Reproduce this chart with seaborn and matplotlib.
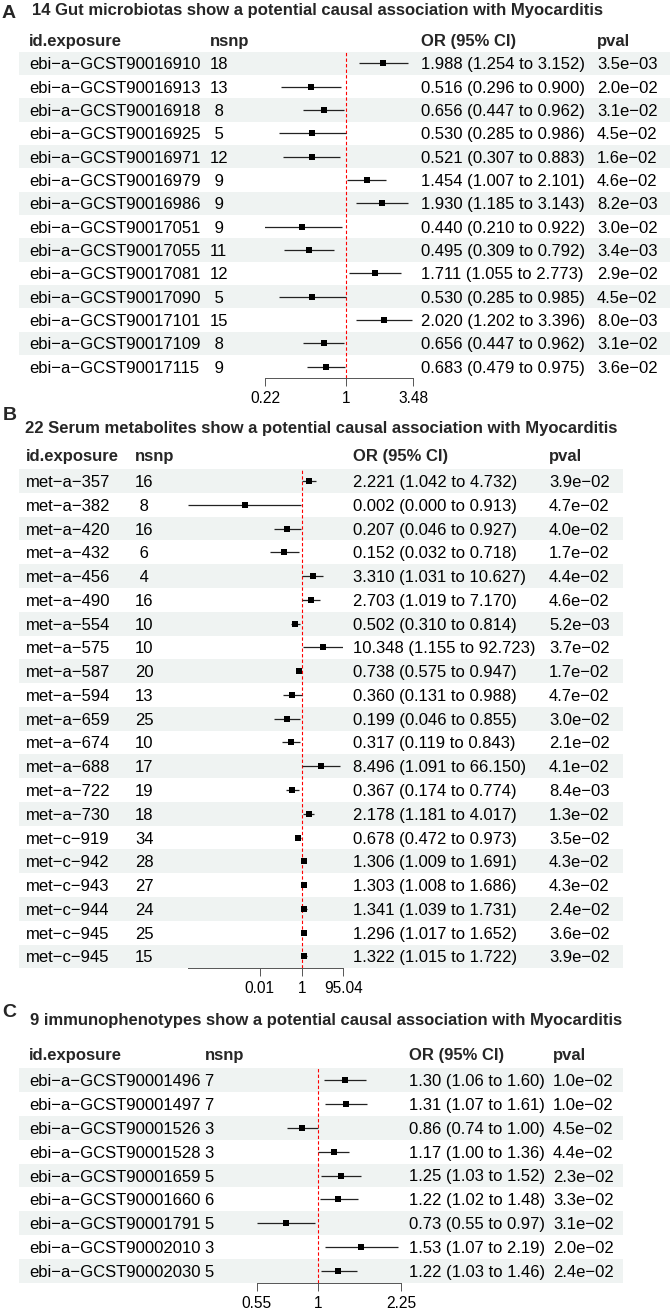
"""Forest plots of MR results - gut microbiota, serum metabolites, immunophenotypes."""

import pandas as pd
import seaborn as sns
import matplotlib.pyplot as plt

#########################################################################################
## Data

ids_a = ["ebi-a-GCST90016910", "ebi-a-GCST90016913", "ebi-a-GCST90016918", "ebi-a-GCST90016925",
         "ebi-a-GCST90016971", "ebi-a-GCST90016979", "ebi-a-GCST90016986", "ebi-a-GCST90017051",
         "ebi-a-GCST90017055", "ebi-a-GCST90017081", "ebi-a-GCST90017090", "ebi-a-GCST90017101",
         "ebi-a-GCST90017109", "ebi-a-GCST90017115"]
nsnp_a = [18, 13, 8, 5, 12, 9, 9, 9, 11, 12, 5, 15, 8, 9]
or_a = [1.988, 0.516, 0.656, 0.530, 0.521, 1.454, 1.930, 0.440, 0.495, 1.711, 0.530, 2.020, 0.656, 0.683]
lo_a = [1.254, 0.296, 0.447, 0.285, 0.307, 1.007, 1.185, 0.210, 0.309, 1.055, 0.285, 1.202, 0.447, 0.479]
hi_a = [3.152, 0.900, 0.962, 0.986, 0.883, 2.101, 3.143, 0.922, 0.792, 2.773, 0.985, 3.396, 0.962, 0.975]
p_a = [3.5e-03, 2.0e-02, 3.1e-02, 4.5e-02, 1.6e-02, 4.6e-02, 8.2e-03, 3.0e-02, 3.4e-03, 2.9e-02,
       4.5e-02, 8.0e-03, 3.1e-02, 3.6e-02]

ids_b = ["met-a-357", "met-a-382", "met-a-420", "met-a-432", "met-a-456", "met-a-490", "met-a-554",
         "met-a-575", "met-a-587", "met-a-594", "met-a-659", "met-a-674", "met-a-688", "met-a-722",
         "met-a-730", "met-c-919", "met-c-942", "met-c-943", "met-c-944", "met-c-945", "met-c-945"]
nsnp_b = [16, 8, 16, 6, 4, 16, 10, 10, 20, 13, 25, 10, 17, 19, 18, 34, 28, 27, 24, 25, 15]
or_b = [2.221, 0.002, 0.207, 0.152, 3.310, 2.703, 0.502, 10.348, 0.738, 0.360, 0.199, 0.317, 8.496,
        0.367, 2.178, 0.678, 1.306, 1.303, 1.341, 1.296, 1.322]
lo_b = [1.042, 0.0000039, 0.046, 0.032, 1.031, 1.019, 0.310, 1.155, 0.575, 0.131, 0.046, 0.119, 1.091,
        0.174, 1.181, 0.472, 1.009, 1.008, 1.039, 1.017, 1.015]
hi_b = [4.732, 0.913, 0.927, 0.718, 10.627, 7.170, 0.814, 92.723, 0.947, 0.988, 0.855, 0.843, 66.150,
        0.774, 4.017, 0.973, 1.691, 1.686, 1.731, 1.652, 1.722]
p_b = [3.9e-02, 4.7e-02, 4.0e-02, 1.7e-02, 4.4e-02, 4.6e-02, 5.2e-03, 3.7e-02, 1.7e-02, 4.7e-02,
       3.0e-02, 2.1e-02, 4.1e-02, 8.4e-03, 1.3e-02, 3.5e-02, 4.3e-02, 4.3e-02, 2.4e-02, 3.6e-02, 3.9e-02]

ids_c = ["ebi-a-GCST90001496", "ebi-a-GCST90001497", "ebi-a-GCST90001526", "ebi-a-GCST90001528",
         "ebi-a-GCST90001659", "ebi-a-GCST90001660", "ebi-a-GCST90001791", "ebi-a-GCST90002010",
         "ebi-a-GCST90002030"]
nsnp_c = [7, 7, 3, 3, 5, 6, 5, 3, 5]
or_c = [1.30, 1.31, 0.86, 1.17, 1.25, 1.22, 0.73, 1.53, 1.22]
lo_c = [1.06, 1.07, 0.74, 1.00, 1.03, 1.02, 0.55, 1.07, 1.03]
hi_c = [1.60, 1.61, 1.00, 1.36, 1.52, 1.48, 0.97, 2.19, 1.46]
p_c = [1.0e-02, 1.0e-02, 4.5e-02, 4.4e-02, 2.3e-02, 3.3e-02, 3.1e-02, 2.0e-02, 2.4e-02]

titles = ["14 Gut microbiotas show a potential causal association with Myocarditis",
          "22 Serum metabolites show a potential causal association with Myocarditis",
          "9 immunophenotypes show a potential causal association with Myocarditis"]
headers = ["id.exposure", "nsnp", "OR (95% CI)", "pval"]

ticks_a, ticklabels_a = [0.22, 1, 3.48], ["0.22", "1", "3.48"]
ticks_b, ticklabels_b = [0.01, 1, 95.04], ["0.01", "1", "95.04"]
ticks_c, ticklabels_c = [0.55, 1, 2.25], ["0.55", "1", "2.25"]

#########################################################################################
## Layout (pixels of the 671 x 1311 output)

W, H = 671, 1311
MINUS = "\u2212"
BAND = "#eff3f2"

layouts = {
    'A': dict(letter=(2, 18.5), title=(32, 15), top=51.6, bottom=378.3, band=(19, 670),
              cols=(29, 210, 421, 597), header=-1.0, forest=(265.3, 413.3), xlim=(0.22, 3.48), dec=3),
    'B': dict(letter=(3, 420), title=(25, 433), top=469.1, bottom=968.3, band=(19, 623),
              cols=(26, 135, 353, 549), header=-1.09, forest=(188, 343.2), xlim=(0.0000039, 95.04), dec=3),
    'C': dict(letter=(2, 1017), title=(30, 1025), top=1068, bottom=1283, band=(19, 623),
              cols=(29, 204.5, 408.6, 553), header=-1.09, forest=(256.7, 401), xlim=(0.55, 2.25), dec=2),
}

#########################################################################################
## Plot

sns.set_theme(style="white")
plt.rcParams['font.family'] = ['Liberation Sans', 'DejaVu Sans']

fig = plt.figure(figsize=(W / 100, H / 100), dpi=100)


def plot_forest(letter, title, ids, nsnp, ors, lows, highs, pvals, ticks, ticklabels):
    """Draw one forest panel: table text, row bands and the CI plot."""

    lay = layouts[letter]
    n = len(ids)
    dec = lay['dec']
    width = max(len(str(v)) for v in nsnp)

    df = pd.DataFrame({'row': range(n), 'or': ors, 'lo': lows, 'hi': highs})

    # Panel letter and title
    fig.text(lay['letter'][0] / W, 1 - lay['letter'][1] / H, letter, fontsize=14,
             fontweight='bold', va='baseline', ha='left')
    fig.text(lay['title'][0] / W, 1 - lay['title'][1] / H, title, fontsize=12,
             fontweight='bold', va='baseline', ha='left')

    rect_y = 1 - lay['bottom'] / H
    rect_h = (lay['bottom'] - lay['top']) / H

    # Table axes - x in pixels, y in rows
    ax_t = fig.add_axes([0, rect_y, 1, rect_h])
    ax_t.set_xlim(0, W)
    ax_t.set_ylim(n - 0.5, -0.5)
    ax_t.axis('off')

    for i in range(0, n, 2):
        ax_t.fill_between(lay['band'], i - 0.5, i + 0.5, color=BAND, lw=0, zorder=0)

    for x, lab in zip(lay['cols'], headers):
        ax_t.text(x, lay['header'], lab, fontsize=12, fontweight='bold',
                  va='center_baseline', ha='left', clip_on=False)

    for i in range(n):
        or_txt = f"{ors[i]:.{dec}f} ({lows[i]:.{dec}f} to {highs[i]:.{dec}f})"
        cells = [ids[i].replace('-', MINUS), f"{nsnp[i]:>{width}}", or_txt,
                 f"{pvals[i]:.1e}".replace('-', MINUS)]
        for x, txt in zip(lay['cols'], cells):
            ax_t.text(x, i, txt, fontsize=12, va='center_baseline', ha='left', color='black')

    # Forest axes
    x0, x1 = lay['forest']
    ax_f = fig.add_axes([x0 / W, rect_y, (x1 - x0) / W, rect_h])
    ax_f.patch.set_alpha(0)
    ax_f.set_xscale('log')

    ax_f.hlines(df['row'], df['lo'], df['hi'], color='#222222', lw=0.9, zorder=2)
    sns.scatterplot(data=df, x='or', y='row', marker='s', s=14, color='black',
                    linewidth=0, ax=ax_f, zorder=3, legend=False)
    ax_f.axvline(1, color='red', lw=0.8, ls=(0, (3, 2)), zorder=1)

    ax_f.set_xlim(*lay['xlim'])
    ax_f.set_ylim(n - 0.5, -0.5)
    ax_f.set_xticks(ticks)
    ax_f.set_xticklabels(ticklabels)
    ax_f.minorticks_off()
    ax_f.set_yticks([])
    ax_f.set_xlabel('')
    ax_f.set_ylabel('')

    for side in ['top', 'left', 'right']:
        ax_f.spines[side].set_visible(False)
    ax_f.spines['bottom'].set_color('#555555')
    ax_f.spines['bottom'].set_linewidth(0.7)
    ax_f.tick_params(axis='x', bottom=True, direction='out', length=6, width=0.7,
                     color='#555555', pad=3.5, labelsize=11.2, labelcolor='black')


plot_forest('A', titles[0], ids_a, nsnp_a, or_a, lo_a, hi_a, p_a, ticks_a, ticklabels_a)
plot_forest('B', titles[1], ids_b, nsnp_b, or_b, lo_b, hi_b, p_b, ticks_b, ticklabels_b)
plot_forest('C', titles[2], ids_c, nsnp_c, or_c, lo_c, hi_c, p_c, ticks_c, ticklabels_c)

fig.savefig('out.png', dpi=100)
